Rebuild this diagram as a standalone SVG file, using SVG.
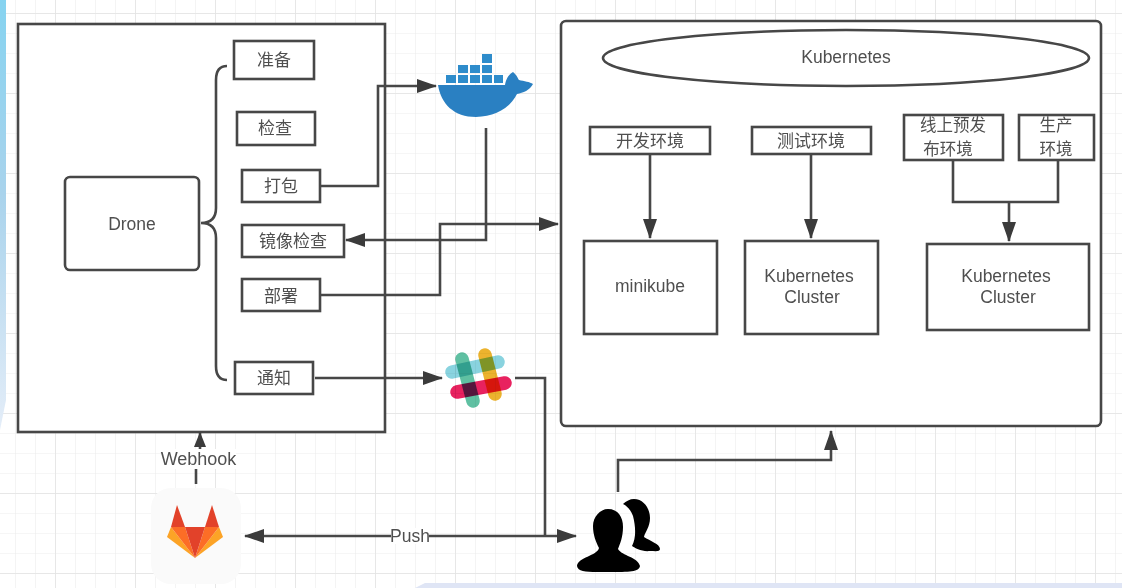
<svg xmlns="http://www.w3.org/2000/svg" width="1122" height="588" viewBox="0 0 1122 588">
<defs>
<linearGradient id="edge" x1="0" y1="0" x2="0" y2="1"><stop offset="0" stop-color="#86d3f0"/><stop offset="0.45" stop-color="#a9d3ec"/><stop offset="1" stop-color="#e4edf8"/></linearGradient>
<pattern id="g" width="20" height="20" patternUnits="userSpaceOnUse" x="15" y="13"><path d="M0 0H20M0 0V20" fill="none" stroke="#ededed" stroke-width="1.2"/></pattern>
<pattern id="G" width="80" height="80" patternUnits="userSpaceOnUse" x="55" y="13"><path d="M0 0H80M0 0V80" fill="none" stroke="#e4e4e4" stroke-width="1.5"/></pattern>
<marker id="a" markerWidth="20" markerHeight="14" refX="19" refY="7" orient="auto-start-reverse" markerUnits="userSpaceOnUse"><path d="M0 0L20 7L0 14Z" fill="#3a3a3a"/></marker>
<marker id="b" markerWidth="15" markerHeight="12" refX="14" refY="6" orient="auto" markerUnits="userSpaceOnUse"><path d="M0 0L15 6L0 12Z" fill="#3a3a3a"/></marker>
<filter id="soft" x="0" y="0" width="100%" height="100%"><feGaussianBlur stdDeviation="0.45"/></filter>
</defs>
<style>
.n{fill:#fff;stroke:#464646;stroke-width:2.6}
.c{fill:none;stroke:#464646;stroke-width:2.6}
.t{font-family:"Noto Sans CJK SC","Liberation Sans",sans-serif;font-size:17px;fill:#505050;text-anchor:middle}
.t2{font-size:16.500px}
.l{font-family:"Liberation Sans",sans-serif;font-size:17.5px;fill:#505050;text-anchor:middle}
.s{mix-blend-mode:multiply}
</style>
<rect width="1122" height="588" fill="#fff"/>
<g filter="url(#soft)">
<rect width="1122" height="588" fill="url(#g)"/>
<rect width="1122" height="588" fill="url(#G)"/>
<path d="M0 0H6V400L0 430Z" fill="url(#edge)"/>
<path d="M415 588L425 583H1122V588Z" fill="#dfe5f5"/>

<g id="drone-box"><rect class="n" x="18" y="24" width="367" height="408"/></g>
<g id="k8s-box"><rect class="n" x="561" y="21" width="540" height="405" rx="5"/></g>

<g id="connectors">
<path class="c" d="M227 66Q216 66 216 80V208Q216 223 201 223Q216 223 216 238V366Q216 380 227 380"/>
<path class="c" d="M320 186H378V86H436" marker-end="url(#a)"/>
<path class="c" d="M486 128V240H346" marker-end="url(#a)"/>
<path class="c" d="M321 295H440V224H558" marker-end="url(#a)"/>
<path class="c" d="M315 378H442" marker-end="url(#a)"/>
<path class="c" d="M515 378H545V536"/>
<path class="c" d="M245 536H576" marker-start="url(#a)" marker-end="url(#a)"/>
<path class="c" d="M618 492V460H831V431" marker-end="url(#a)"/>
<path class="c" d="M196 484V468"/>
<path class="c" d="M200 452V433" marker-end="url(#b)"/>
<path class="c" d="M650 155V238" marker-end="url(#a)"/>
<path class="c" d="M811 155V238" marker-end="url(#a)"/>
<path class="c" d="M953 160V202H1058V160M1009 202V241" marker-end="url(#a)"/>
</g>

<g id="drone"><rect class="n" x="65" y="177" width="134" height="93" rx="5"/><text class="l" x="132" y="230">Drone</text></g>
<g id="prepare"><rect class="n" x="234" y="41" width="80" height="38"/><text class="t" x="274" y="66">准备</text></g>
<g id="check"><rect class="n" x="237" y="112" width="78" height="33"/><text class="t" x="275" y="134">检查</text></g>
<g id="package"><rect class="n" x="242" y="170" width="78" height="32"/><text class="t" x="281" y="192">打包</text></g>
<g id="image-check"><rect class="n" x="242" y="225" width="102" height="32"/><text class="t" x="293" y="247">镜像检查</text></g>
<g id="deploy"><rect class="n" x="242" y="279" width="78" height="32"/><text class="t" x="281" y="302">部署</text></g>
<g id="notify"><rect class="n" x="235" y="362" width="78" height="32"/><text class="t" x="274" y="384">通知</text></g>

<g id="kubernetes"><ellipse class="n" cx="846" cy="58" rx="243" ry="28"/><text class="l" x="846" y="63">Kubernetes</text></g>
<g id="dev"><rect class="n" x="590" y="127" width="120" height="27"/><text class="t" x="650" y="147">开发环境</text></g>
<g id="test"><rect class="n" x="752" y="127" width="119" height="27"/><text class="t" x="811" y="147">测试环境</text></g>
<g id="pre"><rect class="n" x="904" y="115" width="99" height="45"/><text class="t t2" x="953" y="131">线上预发</text><text class="t t2" x="948" y="155">布环境</text></g>
<g id="prod"><rect class="n" x="1019" y="115" width="75" height="45"/><text class="t t2" x="1056" y="131">生产</text><text class="t t2" x="1056" y="155">环境</text></g>
<g id="minikube"><rect class="n" x="584" y="241" width="133" height="93"/><text class="l" x="650" y="292">minikube</text></g>
<g id="cluster1"><rect class="n" x="745" y="241" width="133" height="93"/><text class="l" x="809" y="282">Kubernetes</text><text class="l" x="812" y="303">Cluster</text></g>
<g id="cluster2"><rect class="n" x="927" y="244" width="162" height="86"/><text class="l" x="1006" y="282">Kubernetes</text><text class="l" x="1008" y="303">Cluster</text></g>

<g id="docker">
<path d="M438 85H505C506 79 509 74 513 72C517 75 518 79 519 80C524 81 530 82 533 84C530 90 523 93 517 94C510 108 495 117 476 117C454 117 441 104 438 85Z" fill="#2b80c2"/>
<g fill="#2f8ccb"><rect x="446" y="75" width="10" height="8"/><rect x="458" y="75" width="10" height="8"/><rect x="470" y="75" width="10" height="8"/><rect x="482" y="75" width="10" height="8"/><rect x="494" y="75" width="9" height="8"/><rect x="458" y="65" width="10" height="8"/><rect x="470" y="65" width="10" height="8"/><rect x="482" y="65" width="10" height="8"/><rect x="482" y="54" width="10" height="9"/></g>
</g>

<g id="slack" fill="none" stroke-linecap="round" stroke-width="13.500">
<path class="s" d="M452 372L498 362" stroke="#89d3df"/>
<path class="s" d="M462 359L473 401" stroke="#5fc0a2"/>
<path class="s" d="M485 355L495 394" stroke="#ecb32d"/>
<path class="s" d="M457 392L505 383" stroke="#e8205f"/>
</g>

<g id="gitlab">
<rect x="151" y="488" width="90" height="96" rx="20" fill="#fafafa"/>
<path d="M167 537L171 527L195 558Z" fill="#fca326"/>
<path d="M223 537L219 527L195 558Z" fill="#fca326"/>
<path d="M171 527H185L195 558Z" fill="#fc6d26"/>
<path d="M219 527H205L195 558Z" fill="#fc6d26"/>
<path d="M185 527L195 558L205 527Z" fill="#e24329"/>
<path d="M171 527L177 505L185 527Z" fill="#e24329"/>
<path d="M205 527L212 505L219 527Z" fill="#e24329"/>
</g>

<g id="users" fill="#000">
<path d="M608 509C618 509 623 517 623 527C623 537 620 544 618 549C622 556 638 557 640 566C639 572 630 572 608 572C590 572 578 573 577 566C578 557 597 556 599 548C596 542 593 535 593 526C593 517 600 509 608 509Z"/>
<path d="M634 499C644 499 650 509 650 518C650 527 645 532 644 537C650 541 660 544 660 549C660 552 655 551 650 551C642 552 635 548 632 546C636 538 636 528 633 516C631 510 627 506 623 504C626 501 630 499 634 499Z"/>
</g>

<g id="labels">
<rect x="162" y="449" width="74" height="20" fill="#fff"/>
<text class="l" x="198.500" y="465" style="font-size:18px">Webhook</text>
<rect x="391" y="528" width="38" height="16" fill="#fff"/>
<text class="l" x="410" y="542">Push</text>
</g>
</g>
</svg>
